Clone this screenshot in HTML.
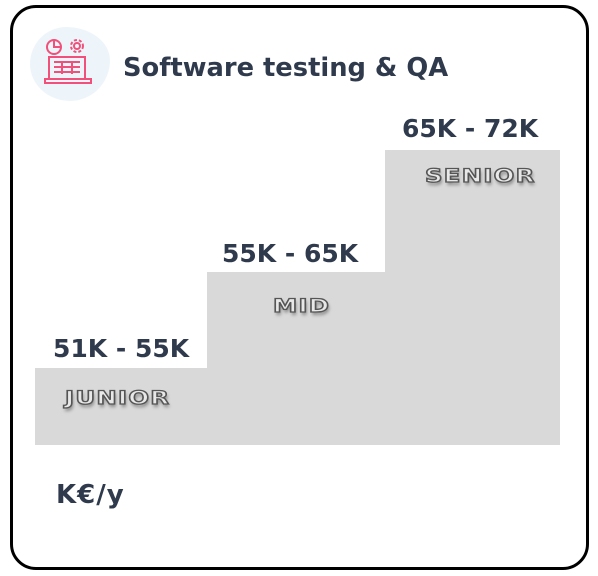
<!DOCTYPE html>
<html><head><meta charset="utf-8"><style>
html,body{margin:0;padding:0;background:#fff;}
body{width:598px;height:576px;position:relative;overflow:hidden;font-family:"DejaVu Sans","Liberation Sans",sans-serif;}
.card{position:absolute;left:10px;top:5px;width:573px;height:559px;border:3px solid #000;border-radius:26px;box-sizing:content-box;}
.blob{position:absolute;left:30px;top:27px;width:80px;height:74px;background:#eef5fa;border-radius:45% 55% 50% 50%/50% 45% 55% 50%;}
.title{position:absolute;left:123px;top:53px;font-size:26px;font-weight:bold;color:#2f3a4d;white-space:nowrap;transform:scaleX(0.99);transform-origin:left;}
.g{position:absolute;background:#d9d9d9;}
.v{position:absolute;font-size:25px;font-weight:bold;color:#2f3a4d;white-space:nowrap;}
.l{position:absolute;font-size:19px;font-weight:bold;letter-spacing:1px;color:#e8e8e8;-webkit-text-stroke:1.3px #555;text-shadow:1px 3px 3px rgba(0,0,0,.35);transform:scaleX(1.28);transform-origin:left;white-space:nowrap;}
.k{position:absolute;left:56px;top:480px;font-size:26px;font-weight:bold;color:#2f3a4d;letter-spacing:1px;}
</style></head><body>
<div class="card"></div>
<div class="blob"></div>
<svg style="position:absolute;left:44px;top:36px" width="50" height="50" viewBox="0 0 50 50" fill="none" stroke="#f0507a" stroke-width="2">
<circle cx="10" cy="11" r="7"/><path d="M10 4v7h7"/>
<circle cx="33" cy="10" r="3"/><circle cx="33" cy="10" r="6" stroke-dasharray="3 2"/>
<rect x="5" y="21" width="36" height="22"/><path d="M10 26h26M10 31h26M10 36h26M18 26v12M28 26v12"/>
<path d="M1 43h46v4H1z"/>
</svg>
<div class="title">Software testing &amp; QA</div>
<div class="g" style="left:35px;top:368px;width:172px;height:77px"></div>
<div class="g" style="left:207px;top:272px;width:178px;height:173px"></div>
<div class="g" style="left:385px;top:150px;width:175px;height:295px"></div>
<div class="v" style="left:53px;top:334px">51K - 55K</div>
<div class="v" style="left:222px;top:239px">55K - 65K</div>
<div class="v" style="left:402px;top:114px">65K - 72K</div>
<div class="l" style="left:65px;top:387px">JUNIOR</div>
<div class="l" style="left:273px;top:295px">MID</div>
<div class="l" style="left:425px;top:165px">SENIOR</div>
<div class="k">K€/y</div>
</body></html>
